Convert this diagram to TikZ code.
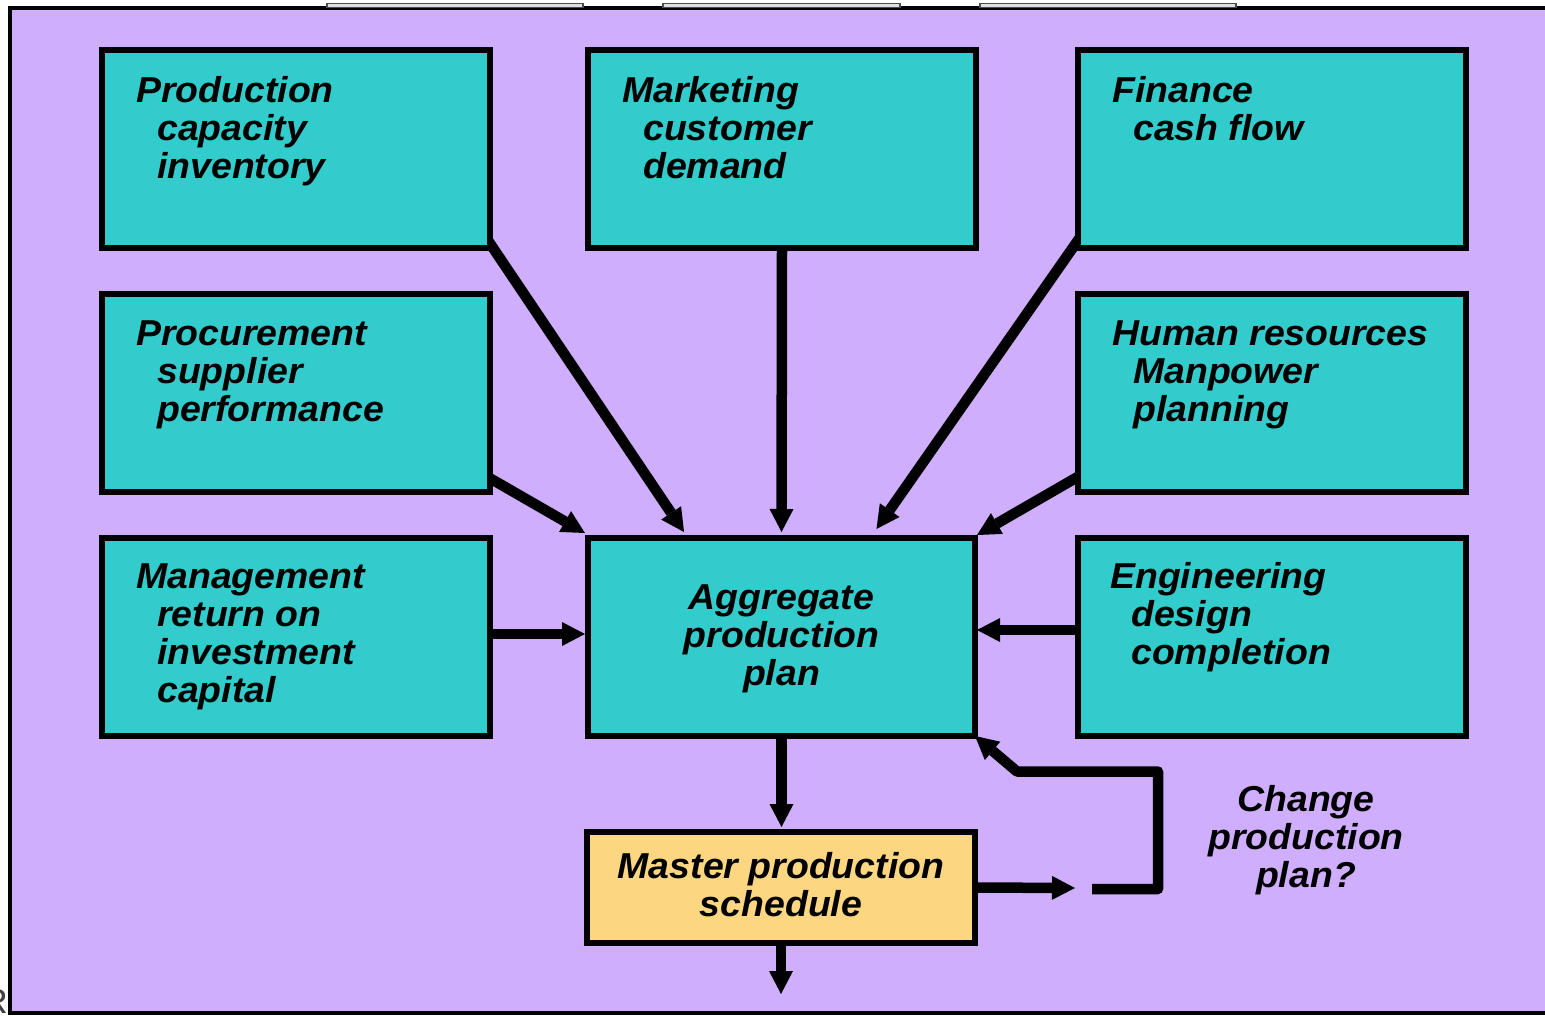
\documentclass[tikz,border=0pt]{standalone}
\usepackage{fontspec}
\setmainfont{Liberation Sans}[FakeStretch=1.04]
\usetikzlibrary{arrows.meta,calc}
\definecolor{bgpurple}{RGB}{207,175,253}
\definecolor{boxteal}{RGB}{51,204,204}
\definecolor{mpsyellow}{RGB}{253,214,130}
\pgfdeclarelayer{back}
\pgfsetlayers{back,main}
\newcommand{\mylines}[1]{\begin{tabular}[t]{@{}l@{}}#1\end{tabular}}
\newcommand{\mycenter}[1]{\begin{tabular}[t]{@{}c@{}}#1\end{tabular}}
\newcommand{\ind}{\hspace*{21pt}}
\begin{document}
\begin{tikzpicture}[x=1pt,y=-1pt,
  font=\fontsize{36}{38}\selectfont\bfseries\itshape,
  box/.style={draw=black, line width=5.5pt, fill=boxteal, minimum width=388pt,
    minimum height=198pt, inner sep=0pt, outer sep=0pt, anchor=north west},
  txt/.style={anchor=base west, inner sep=0pt},
  ctxt/.style={anchor=base, inner sep=0pt},
  arr/.style={line width=10.5pt, -{Triangle[length=23pt,width=24pt,line width=0pt]}},
  tab/.style={line width=1.2pt, draw=black!70, fill=black!12}]
\useasboundingbox (0,0) rectangle (1545,1015);
\begin{pgfonlayer}{back}
  \node[anchor=base east, inner sep=0pt, text=black!75,
        font=\fontsize{35}{35}\selectfont] (frag) at (8,1013) {R};
  \draw[line width=4pt, fill=bgpurple] (10,7.5) rectangle (1580,1013);
  \draw[tab] (327,3.5) rectangle (583,7.5);
  \draw[tab] (663,3.5) rectangle (900,7.5);
  \draw[tab] (980,3.5) rectangle (1236,7.5);
\end{pgfonlayer}

% boxes
\node[box] (prod) at (102,50) {};
\node[box] (mkt)  at (588,50) {};
\node[box] (fin)  at (1078,50) {};
\node[box] (proc) at (102,294) {};
\node[box] (hr)   at (1078,294) {};
\node[box] (mgmt) at (102,538) {};
\node[box, minimum width=387pt] (agg) at (588,538) {};
\node[box] (eng)  at (1078,538) {};
\node[box, fill=mpsyellow, minimum height=111pt] (mps) at (587,832) {};

% texts
\node[txt] (prodT) at ($(prod.north west)+(34,52)$) {\mylines{Production\\\ind capacity\\\ind inventory}};
\node[txt] (mktT)  at ($(mkt.north west)+(34,52)$)  {\mylines{Marketing\\\ind customer\\\ind demand}};
\node[txt] (finT)  at ($(fin.north west)+(34,52)$)  {\mylines{Finance\\\ind cash flow}};
\node[txt] (procT) at ($(proc.north west)+(34,51)$) {\mylines{Procurement\\\ind supplier\\\ind performance}};
\node[txt] (hrT)   at ($(hr.north west)+(34,51)$)   {\mylines{Human resources\\\ind Manpower\\\ind planning}};
\node[txt] (mgmtT) at ($(mgmt.north west)+(34,50)$) {\mylines{Management\\\ind return on\\\ind investment\\\ind capital}};
\node[txt] (engT)  at ($(eng.north west)+(32,50)$)  {\mylines{Engineering\\\ind design\\\ind completion}};
\node[ctxt] (aggT) at ($(agg.north)+(0,71)$) {\mycenter{Aggregate\\production\\plan}};
\node[ctxt] (mpsT) at ($(mps.north)+(0,46)$) {\mycenter{Master production\\schedule}};
\node[ctxt] (chg) at (1306,811) {\mycenter{Change\\production\\plan?}};

% connector ends
\coordinate (outEnd) at (781,994);
\coordinate (mpsEnd) at (1075,888);
\coordinate (fbStart) at (1092,889);
\coordinate (fbA) at (1158,889);
\coordinate (fbB) at (1158,771.5);
\coordinate (fbC) at (1017,771.5);

\begin{pgfonlayer}{back}
  \draw[arr] ($(proc.south east)+(-4,-16)$) -- ($(agg.north west)+(-3,-5)$);
  \draw[arr] ($(prod.south east)+(-3,-9)$) -- ($(agg.north west)+(96,-6)$);
  \draw[arr] (mkt.south) -- ($(agg.north)+(0,-6)$);
  \draw[arr] ($(fin.south west)+(3,-12)$) -- ($(agg.north)+(95,-9)$);
  \draw[arr] ($(hr.south west)+(3,-17)$) -- ($(agg.north east)+(2,-3)$);
  \draw[arr] ($(eng.west)+(0,-7)$) -- ($(agg.east)+(2,-7)$);
  \draw[arr] ($(mgmt.east)+(0,-3)$) -- ($(agg.west)+(-3,-3)$);
  \draw[arr] (agg.south) -- ($(agg.south |- mps.north)+(0,-5)$);
  \draw[arr] (mps.south) -- (outEnd);
  \draw[arr] (mps.east) -- (mpsEnd);
  \draw[arr, line join=round] (fbStart) -- (fbA) -- (fbB) -- (fbC) -- (agg.south east);
\end{pgfonlayer}
\end{tikzpicture}
\end{document}
